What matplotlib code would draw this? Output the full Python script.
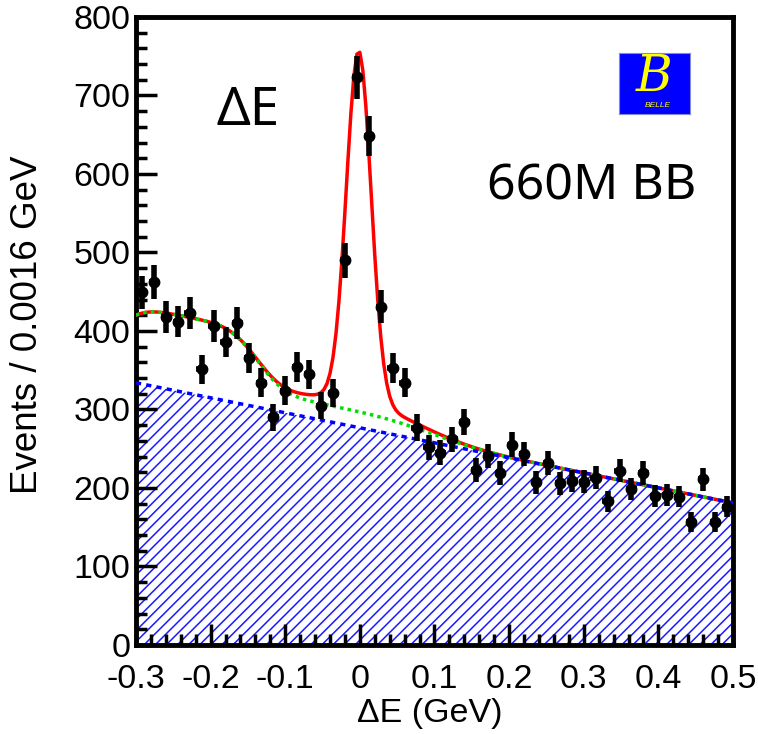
import math
import numpy as np
import matplotlib
matplotlib.use("Agg")
import matplotlib.pyplot as plt
from matplotlib.ticker import MultipleLocator

# measured points (bin centres, events per bin)
bin_centres = np.round(np.arange(-0.292, 0.5, 0.016), 3)
events = np.array([449, 462, 418, 412, 423, 351, 406, 386, 410, 366,
                   334, 290, 324, 354, 345, 305, 321, 490, 723, 648,
                   431, 353, 334, 277, 252, 245, 262, 284, 223, 241,
                   219, 255, 243, 207, 232, 206, 209, 208, 213, 183,
                   222, 199, 219, 190, 191, 189, 157, 211, 157, 176])
errors = np.sqrt(events)

# fit parameters
bkg_left, bkg_right = 334.0, 181.0           # linear continuum
bb_amp, bb_lo, bb_hi, bb_w = 76.0, -0.33, -0.137, 0.04   # peaking BB bump
tail_amp, tail_pos, tail_w = 21.0, 0.10, 0.08            # slow tail
sig_mean, sig_core, sig_core_w = -0.0015, 446.0, 0.0165
sig_wide, sig_wide_w = 14.0, 0.06

erf = np.vectorize(math.erf)

x_fit = np.linspace(-0.3, 0.5, 201)
bkg = bkg_left + (bkg_right - bkg_left) * (x_fit + 0.3) / 0.8
bb = bb_amp * 0.5 * (erf((x_fit - bb_lo) / bb_w) - erf((x_fit - bb_hi) / bb_w))
tail = tail_amp * 0.5 * (1 - erf((x_fit - tail_pos) / tail_w))
green = bkg + bb + tail
signal = (sig_core * np.exp(-0.5 * ((x_fit - sig_mean) / sig_core_w) ** 2)
          + sig_wide * np.exp(-0.5 * ((x_fit - sig_mean) / sig_wide_w) ** 2))
total = green + signal

plt.rcParams['font.family'] = ['Liberation Sans', 'DejaVu Sans']
plt.rcParams['hatch.linewidth'] = 1.1

fig = plt.figure(figsize=(7.58, 7.34), dpi=100)
ax = fig.add_axes([0.1794, 0.1213, 0.7876, 0.8556])

ax.fill_between(x_fit, 0, bkg, facecolor='none', edgecolor='#1a1aff',
                hatch='///', linewidth=0)
ax.plot(x_fit, total, color='red', lw=2.5, zorder=3)
ax.plot(x_fit, green, color='#00dd00', lw=2.5, ls=(0, (1, 1.2)), zorder=4)
ax.plot(x_fit, bkg, color='#0000ff', lw=2.5, ls=(0, (1.5, 1.5)), zorder=4)

ax.errorbar(bin_centres, events, yerr=errors, xerr=0.007, fmt='o', color='black',
            ms=7.5, elinewidth=4, capsize=0, zorder=5)

ax.set_xlim(-0.3, 0.5)
ax.set_ylim(0, 800)
ax.xaxis.set_major_locator(MultipleLocator(0.1))
ax.xaxis.set_minor_locator(MultipleLocator(0.02))
ax.yaxis.set_major_locator(MultipleLocator(100))
ax.yaxis.set_minor_locator(MultipleLocator(20))
ax.set_xticks(np.arange(-0.3, 0.51, 0.1))
ax.set_xticklabels(['-0.3', '-0.2', '-0.1', '0', '0.1', '0.2', '0.3', '0.4', '0.5'])
ax.tick_params(which='both', direction='in', top=False, right=False,
               labelsize=24.5, width=2.5)
ax.tick_params(axis='x', which='both', pad=14)
ax.tick_params(axis='y', which='both', pad=4)
ax.tick_params(which='major', length=15)
ax.tick_params(which='minor', length=8)
for s in ax.spines.values():
    s.set_linewidth(3.5)

ax.set_xlabel('ΔE (GeV)', fontsize=24.5)
ax.set_ylabel('Events / 0.0016 GeV', fontsize=26.5)
ax.xaxis.set_label_coords(0.4925, -0.085)
ax.yaxis.set_label_coords(-0.152, 0.51)

ax.text(-0.192, 662, 'ΔE', fontsize=38, family=['Noto Sans', 'DejaVu Sans'],
        ha='left', va='baseline')
ax.text(0.170, 567, '660M BB', fontsize=36, family=['Noto Sans', 'DejaVu Sans'],
        ha='left', va='baseline')

# Belle logo
logo = fig.add_axes([0.8166, 0.8447, 0.0937, 0.0831])
logo.set_facecolor('#0000ff')
logo.set_xticks([])
logo.set_yticks([])
for s in logo.spines.values():
    s.set_color('#8888cc')
    s.set_linewidth(0.8)
logo.text(0.5, 0.6, 'B', color='yellow', fontsize=36, style='italic',
          family='DejaVu Serif', ha='center', va='center', transform=logo.transAxes)
logo.text(0.55, 0.14, 'BELLE', color='yellow', fontsize=6, style='italic',
          ha='center', va='center', transform=logo.transAxes)

fig.savefig('out.png', dpi=100)
